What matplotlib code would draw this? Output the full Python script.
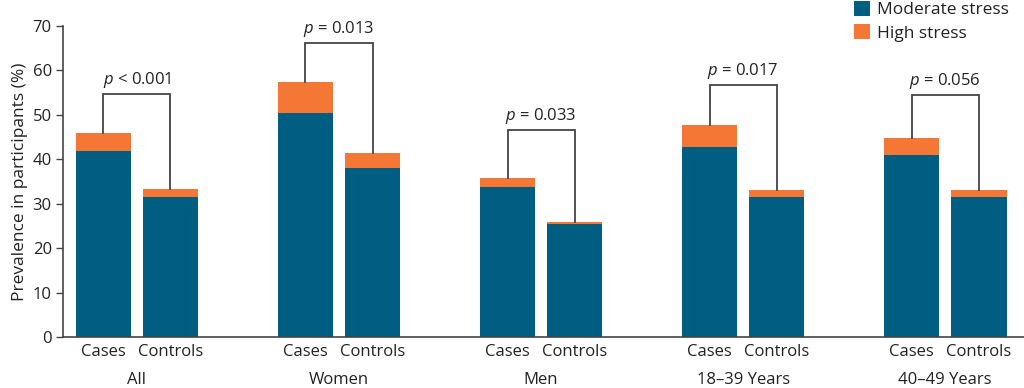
import matplotlib
matplotlib.use("Agg")
import matplotlib.pyplot as plt
import numpy as np

plt.rcParams['font.family'] = ['Open Sans', 'DejaVu Sans']
plt.rcParams['mathtext.fontset'] = 'custom'
plt.rcParams['mathtext.rm'] = 'Open Sans'
plt.rcParams['mathtext.it'] = 'Open Sans:italic'

groups = ["All", "Women", "Men", "18\u201339 Years", "40\u201349 Years"]
bar_labels = ["Cases", "Controls"]
cases_moderate = [41.9, 50.4, 33.8, 42.8, 41.0]
cases_total = [45.9, 57.3, 35.7, 47.6, 44.7]
controls_moderate = [31.5, 38.0, 25.4, 31.5, 31.5]
controls_total = [33.2, 41.3, 25.8, 33.1, 33.1]
p_labels = ["< 0.001", "= 0.013", "= 0.033", "= 0.017", "= 0.056"]
bracket_heights = [54.6, 66.1, 46.5, 56.6, 54.5]

cases_high = [t - m for t, m in zip(cases_total, cases_moderate)]
controls_high = [t - m for t, m in zip(controls_total, controls_moderate)]

c_mod = "#005e82"
c_high = "#f47735"
txt = "#222222"
line_c = "#444444"

fig = plt.figure(figsize=(10.24, 3.88), dpi=100)
ax = fig.add_axes([0.0615, 0.1314, 0.9385, 0.8024])

x = np.arange(len(groups))
off = 0.166
w = 0.275
xc = x - off
xk = x + off

ax.bar(xc, cases_moderate, w, color=c_mod, label="Moderate stress")
ax.bar(xc, cases_high, w, bottom=cases_moderate, color=c_high, label="High stress")
ax.bar(xk, controls_moderate, w, color=c_mod)
ax.bar(xk, controls_high, w, bottom=controls_moderate, color=c_high)

for i in range(len(groups)):
    h = bracket_heights[i]
    ax.plot([xc[i], xc[i], xk[i], xk[i]], [cases_total[i], h, h, controls_total[i]],
            color=line_c, lw=1.3, solid_joinstyle='miter')
    ax.text(x[i], h + 0.9, r"$p$ " + p_labels[i], ha='center', va='bottom',
            fontsize=12, color=txt)

ax.set_xlim(-0.366, 4.39)
ax.set_ylim(0, 70)
ax.set_yticks(np.arange(0, 71, 10))
ax.set_xticks(list(xc) + list(xk))
ax.set_xticklabels([bar_labels[0]] * len(groups) + [bar_labels[1]] * len(groups))
ax.tick_params(axis='x', length=0, pad=5, labelsize=12, colors=txt)
ax.tick_params(axis='y', length=5, width=1, labelsize=12, colors=txt, color=line_c, pad=3)
for s in ['top', 'right']:
    ax.spines[s].set_visible(False)
for s in ['left', 'bottom']:
    ax.spines[s].set_color(line_c)
    ax.spines[s].set_linewidth(1.2)

for i, g in enumerate(groups):
    ax.text(x[i], -9.6, g, ha='center', va='center', fontsize=12, color=txt)

ax.set_ylabel("Prevalence in participants (%)", fontsize=12.5, color=txt, labelpad=3)

leg = ax.legend(loc='upper left', bbox_to_anchor=(0.823, 1.08), frameon=False,
                fontsize=12.5, handlelength=0.95, handleheight=0.95,
                handletextpad=0.4, labelspacing=0.35, borderaxespad=0, borderpad=0)
for t in leg.get_texts():
    t.set_color(txt)

fig.savefig("out.png", dpi=100)
